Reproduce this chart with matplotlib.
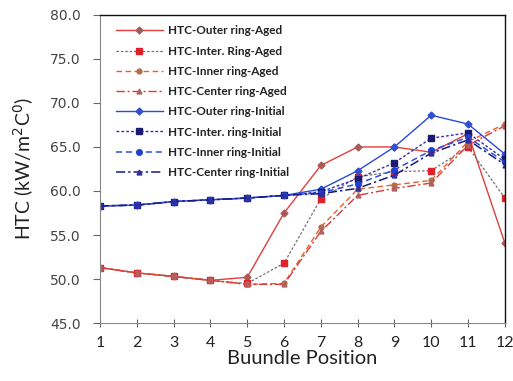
import matplotlib
import matplotlib.pyplot as plt
import numpy as np

matplotlib.use('Agg')

# Bundle positions
positions = [1, 2, 3, 4, 5, 6, 7, 8, 9, 10, 11, 12]

# Aged HTC values
outer_aged = [51.3, 50.7, 50.3, 49.85, 50.2, 57.5, 62.9, 65.0, 65.0, 64.4, 66.5, 54.1]
inter_aged = [51.3, 50.7, 50.3, 49.85, 49.5, 51.8, 59.1, 61.6, 62.2, 62.3, 65.0, 59.2]
inner_aged = [51.3, 50.7, 50.3, 49.85, 49.4, 49.5, 55.9, 60.2, 60.7, 61.2, 65.6, 67.6]
center_aged = [51.3, 50.7, 50.3, 49.85, 49.4, 49.4, 55.4, 59.5, 60.3, 60.9, 65.2, 67.4]

# Initial HTC values
outer_init = [58.3, 58.4, 58.8, 59.0, 59.2, 59.5, 60.2, 62.3, 65.0, 68.6, 67.6, 64.2]
inter_init = [58.3, 58.4, 58.8, 59.0, 59.2, 59.5, 59.9, 61.4, 63.2, 66.0, 66.6, 63.6]
inner_init = [58.3, 58.4, 58.8, 59.0, 59.2, 59.5, 59.8, 60.8, 62.4, 64.6, 66.1, 63.3]
center_init = [58.3, 58.4, 58.8, 59.0, 59.2, 59.5, 59.7, 60.3, 61.8, 64.3, 65.8, 63.0]

series_labels = ["HTC-Outer ring-Aged", "HTC-Inter. Ring-Aged",
                 "HTC-Inner ring-Aged", "HTC-Center ring-Aged",
                 "HTC-Outer ring-Initial", "HTC-Inter. ring-Initial",
                 "HTC-Inner ring-Initial", "HTC-Center ring-Initial"]

plt.rcParams['font.family'] = ['Lato', 'DejaVu Sans']

fig = plt.figure(figsize=(5.13, 3.81), dpi=100)
ax = fig.add_axes([0.195, 0.152, 0.789, 0.809])

ax.plot(positions, outer_aged, color='#e0403c', linestyle='-', lw=1.0,
        marker='D', ms=3.5, mfc='#a85a5a', mec='#a85a5a', label=series_labels[0])
ax.plot(positions, inter_aged, color='#707070', linestyle=(0, (2, 1.5)), lw=0.9,
        marker='s', ms=4.5, mfc='#e0202a', mec='#e0202a', label=series_labels[1])
ax.plot(positions, inner_aged, color='#e8602a', linestyle=(0, (4, 2.5)), lw=1.0,
        marker='o', ms=3.5, mfc='#b07050', mec='#b07050', label=series_labels[2])
ax.plot(positions, center_aged, color='#e03838', linestyle=(0, (6, 2, 1.5, 2)), lw=1.0,
        marker='^', ms=3.5, mfc='#b06060', mec='#b06060', label=series_labels[3])

ax.plot(positions, outer_init, color='#2a4bd7', linestyle='-', lw=1.0,
        marker='D', ms=3.5, mfc='#3050d0', mec='#3050d0', label=series_labels[4])
ax.plot(positions, inter_init, color='#3a2ab0', linestyle=(0, (2, 1.5)), lw=1.0,
        marker='s', ms=4.5, mfc='#1a1a70', mec='#1a1a70', label=series_labels[5])
ax.plot(positions, inner_init, color='#2a50e0', linestyle=(0, (4, 2.5)), lw=1.1,
        marker='o', ms=4, mfc='#2040d0', mec='#2040d0', label=series_labels[6])
ax.plot(positions, center_init, color='#1a1a80', linestyle=(0, (6, 2, 1.5, 2)), lw=1.1,
        marker='^', ms=3.5, mfc='#3030a0', mec='#3030a0', label=series_labels[7])

ax.set_xlim(1, 12)
ax.set_ylim(45, 80)
ax.set_xticks(positions)
ax.set_yticks(np.arange(45, 80.1, 5))
ax.set_yticklabels(["%.1f" % v for v in np.arange(45, 80.1, 5)],
                   family='DejaVu Sans', fontsize=10, color='#444444')
ax.tick_params(axis='y', direction='out', length=5, pad=9, colors='#666666', labelcolor='#444444')
ax.tick_params(axis='x', direction='inout', length=6, pad=6, labelsize=11.5,
               colors='#666666', labelcolor='#222222')

for side in ['left', 'bottom']:
    ax.spines[side].set_color('#888888')
    ax.spines[side].set_linewidth(0.8)
for side in ['top', 'right']:
    ax.spines[side].set_color('#111111')
    ax.spines[side].set_linewidth(1.0)

ax.set_xlabel("Buundle Position", fontsize=14.5, color='#222222', labelpad=0)
ax.set_ylabel("HTC (kW/m$^{2}$C$^{0}$)", fontsize=14, color='#222222', labelpad=10)

leg = ax.legend(loc='upper left', bbox_to_anchor=(0.012, 1.0), frameon=False,
                fontsize=8.5, handlelength=4.0, labelspacing=0.78, handletextpad=0.45)
for t in leg.get_texts():
    t.set_fontweight('bold')
    t.set_color('#222222')

plt.savefig("out.png", dpi=100)
